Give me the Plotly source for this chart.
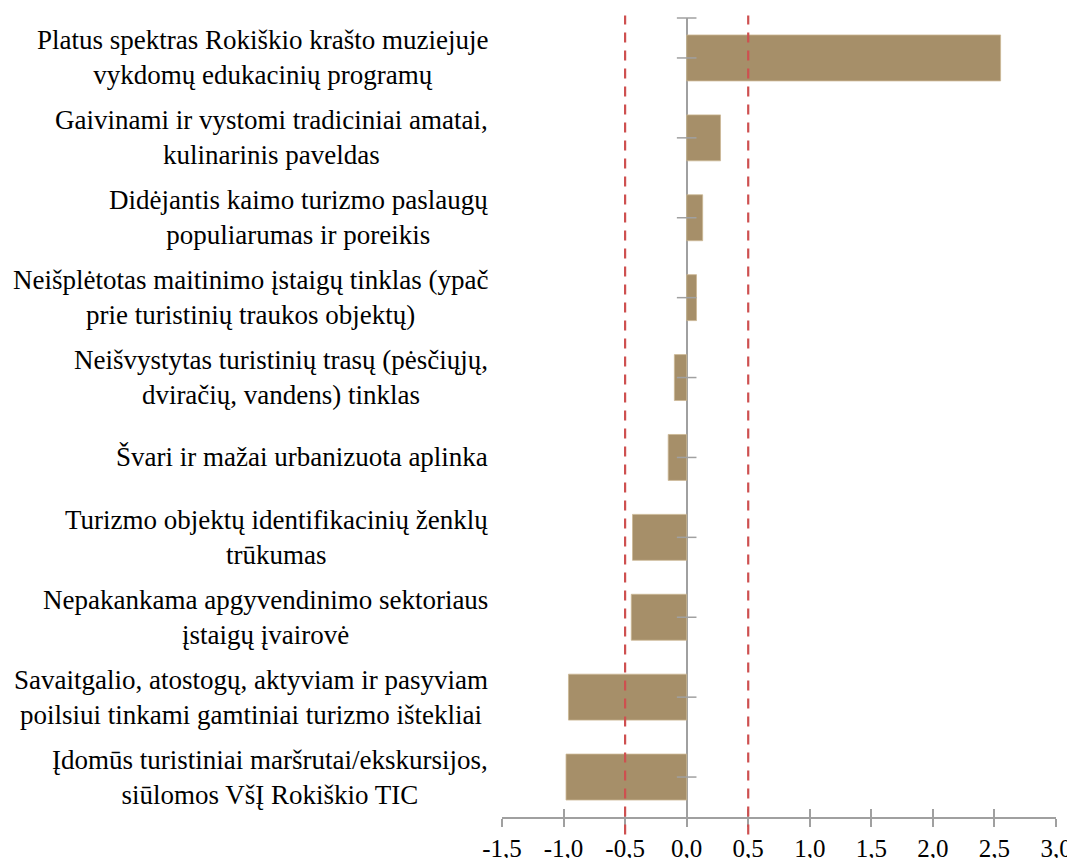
import plotly.graph_objects as go

categories = [
    "Platus spektras Rokiškio krašto muziejuje<br>vykdomų edukacinių programų",
    "Gaivinami ir vystomi tradiciniai amatai,<br>kulinarinis paveldas",
    "Didėjantis kaimo turizmo paslaugų<br>populiarumas ir poreikis",
    "Neišplėtotas maitinimo įstaigų tinklas (ypač<br>prie turistinių traukos objektų)",
    "Neišvystytas turistinių trasų (pėsčiųjų,<br>dviračių, vandens) tinklas",
    "Švari ir mažai urbanizuota aplinka",
    "Turizmo objektų identifikacinių ženklų<br>trūkumas",
    "Nepakankama apgyvendinimo sektoriaus<br>įstaigų įvairovė",
    "Savaitgalio, atostogų, aktyviam ir pasyviam<br>poilsiui tinkami gamtiniai turizmo ištekliai",
    "Įdomūs turistiniai maršrutai/ekskursijos,<br>siūlomos VšĮ Rokiškio TIC",
]
values = [2.55, 0.275, 0.13, 0.08, -0.10, -0.15, -0.44, -0.45, -0.96, -0.98]
thresholds = [-0.5, 0.5]
tick_vals = [-1.5, -1.0, -0.5, 0.0, 0.5, 1.0, 1.5, 2.0, 2.5, 3.0]
tick_text = ["-1,5", "-1,0", "-0,5", "0,0", "0,5", "1,0", "1,5", "2,0", "2,5", "3,0"]

positions = list(range(len(categories)))
GREY = "#A0A0A0"
FONT = "Liberation Serif, Times New Roman, serif"

fig = go.Figure()
fig.add_trace(go.Bar(
    x=values, y=positions, orientation="h",
    marker=dict(color="#A68F69", line=dict(color="#CBB894", width=0.8)),
    width=0.575, showlegend=False, hoverinfo="skip",
))
# cross tick marks on the zero (category) axis
tick_pos = [positions[0] - 0.5] + positions
fig.add_trace(go.Scatter(
    x=[0] * len(tick_pos), y=tick_pos, mode="markers",
    marker=dict(symbol="line-ew", size=14, line=dict(color=GREY, width=1.5)),
    cliponaxis=False, showlegend=False, hoverinfo="skip",
))
# invisible trace on the overlay axis (inside ticks)
fig.add_trace(go.Scatter(
    x=[tick_vals[0], tick_vals[-1]], y=[0, 0], xaxis="x2", mode="markers",
    marker=dict(opacity=0), showlegend=False, hoverinfo="skip",
))

for t in thresholds:
    fig.add_shape(type="line", xref="x", yref="paper", x0=t, x1=t, y0=-0.022, y1=1.003,
                  line=dict(color="#CE5050", width=2.2, dash="10px,8px"), layer="above")

for pos, lab in zip(positions, categories):
    fig.add_annotation(x=0, xref="paper", y=pos, yref="y", text=lab, showarrow=False,
                       xanchor="right", yanchor="middle", align="center", xshift=-12,
                       font=dict(family=FONT, size=27, color="black"))

xr = [tick_vals[0], tick_vals[-1]]
# page body has an 8px margin: figure is sized/offset to compensate
fig.update_layout(
    width=1067, height=850,
    margin=dict(l=494, r=19, t=10, b=41),
    paper_bgcolor="white", plot_bgcolor="white",
    bargap=0.425,
    xaxis=dict(range=xr, tickvals=tick_vals, ticktext=tick_text, showgrid=False,
               automargin=False,
               zeroline=True, zerolinecolor=GREY, zerolinewidth=1.5,
               showline=True, linecolor=GREY, linewidth=1.5,
               ticks="outside", ticklen=8, tickcolor=GREY, tickwidth=1.5,
               tickfont=dict(family=FONT, size=25, color="black")),
    xaxis2=dict(range=xr, overlaying="x", anchor="y", side="bottom", automargin=False,
                tickvals=tick_vals, showticklabels=False, showgrid=False,
                zeroline=False, showline=False,
                ticks="inside", ticklen=8, tickcolor=GREY, tickwidth=1.5),
    yaxis=dict(range=[len(categories) - 0.5, -0.5], showticklabels=False, automargin=False,
               showgrid=False, zeroline=False, showline=False, ticks=""),
)

fig.write_html("out.html")
